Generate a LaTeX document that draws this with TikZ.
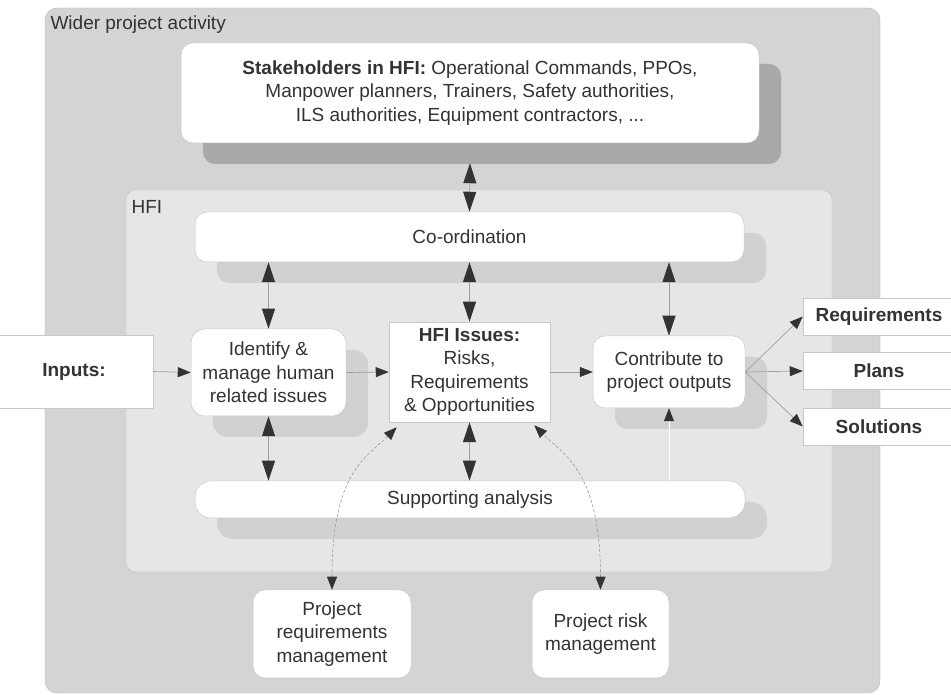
\documentclass[tikz,border=0pt]{standalone}
\usepackage{fontspec}
\setmainfont{Liberation Sans}
\usetikzlibrary{arrows.meta, shadows}

\definecolor{txt}{HTML}{333333}
\definecolor{wider}{HTML}{D4D4D4}
\definecolor{hfi}{HTML}{E6E6E6}
\definecolor{shadowdark}{HTML}{A9A9A9}
\definecolor{shadowlight}{HTML}{D1D1D1}
\definecolor{edge}{HTML}{C8C8C8}
\definecolor{conn}{HTML}{A0A0A0}
\definecolor{tipc}{HTML}{333333}

\tikzset{
  txtfont/.style={font=\fontsize{19}{23.5}\selectfont, text=txt},
  box/.style={txtfont, fill=white, draw=edge, line width=.5pt, rounded corners=12pt, align=center, inner sep=2pt},
  dropgray/.style={drop shadow={shadow xshift=22pt, shadow yshift=-21pt, opacity=1, fill=#1}},
  outbox/.style={txtfont, font=\fontsize{19}{23.5}\selectfont\bfseries, fill=white, draw=edge, line width=.5pt, minimum width=152pt, minimum height=37pt},
  conn/.style={draw=conn, line width=.7pt},
  vert/.style={conn, >={Triangle[length=20pt,width=13pt,color=tipc]}},
  link/.style={draw=gray!80, line width=.6pt, dash pattern=on 3pt off 2pt}
}

\begin{document}
\begin{tikzpicture}[x=1pt, y=1pt, >={Triangle[length=13pt,width=10pt,color=tipc]}]
\useasboundingbox (0,0) rectangle (951,695);
% areas
\filldraw[fill=wider, draw=gray!55, rounded corners=12pt] (45,2) rectangle (880,687);
\node[txtfont, anchor=west] (wider) at (47,670) {Wider project activity};
\filldraw[fill=hfi, draw=gray!45, rounded corners=10pt] (126,123) rectangle (832,505);
\node[txtfont, anchor=west] (hfi) at (128,488) {HFI};

% boxes
\node[box, dropgray=shadowdark, minimum width=578pt, minimum height=100pt] (stake) at (470,602)
  {\textbf{Stakeholders in HFI:} Operational Commands, PPOs,\\ Manpower planners, Trainers, Safety authorities,\\ ILS authorities, Equipment contractors, ...};
\node[box, dropgray=shadowlight, minimum width=549pt, minimum height=50pt] (coord) at (469.5,458) {Co-ordination};
\node[box, dropgray=shadowlight, minimum width=155pt, minimum height=87pt, rounded corners=14pt] (identify) at (268.5,322.5)
  {Identify \&\\manage human\\related issues};
\node[box, sharp corners, minimum width=161pt, minimum height=100pt] (issues) at (469.5,323)
  {\textbf{HFI Issues:}\\Risks,\\Requirements\\\& Opportunities};
\node[box, dropgray=shadowlight, minimum width=152pt, minimum height=72pt] (contrib) at (669,323) {Contribute to\\project outputs};
\node[box, dropgray=shadowlight, minimum width=550pt, minimum height=37pt, rounded corners=16pt] (support) at (470,195.5) {Supporting analysis};

\node[outbox, minimum width=158pt, minimum height=73pt] (inputs) at (74,323.5) {Inputs:};
\node[outbox] (req) at (879,378.5) {Requirements};
\node[outbox] (plans) at (879,324) {Plans};
\node[outbox] (sol) at (879,268.5) {Solutions};

\node[box, minimum width=158pt, minimum height=88pt] (projreq) at (332,61) {Project\\requirements\\management};
\node[box, minimum width=137pt, minimum height=88pt] (projrisk) at (600.5,61) {Project risk\\management};

% connectors
\draw[vert, <->] ([yshift=-20pt]stake.south) -- (coord.north);
\draw[vert, <->] (coord.south -| identify.north) -- (identify.north);
\draw[vert, <->] (coord.south -| issues.north) -- (issues.north);
\draw[vert, <->] (coord.south -| contrib.north) -- (contrib.north);
\draw[vert, <->] (identify.south) -- (identify.south |- support.north);
\draw[vert, <->] (issues.south) -- (issues.south |- support.north);
\draw[draw=white, line width=.7pt, ->] (support.north -| contrib.south) -- (contrib.south);
\draw[conn, ->] (inputs.east) -- (identify.west);
\draw[conn, ->] (identify.east) -- (issues.west);
\draw[conn, ->] (issues.east) -- (contrib.west);
\foreach \out in {req, plans, sol}
  \draw[conn, ->] (contrib.east) -- (\out.west);
\draw[link, <->] (projreq.north) .. controls +(0,118) and +(-30,-30) .. ([xshift=8pt,yshift=-5pt]issues.south west);
\draw[link, <->] (projrisk.north) .. controls +(0,118) and +(30,-30) .. ([xshift=-16pt,yshift=-3pt]issues.south east);
\end{tikzpicture}
\end{document}
